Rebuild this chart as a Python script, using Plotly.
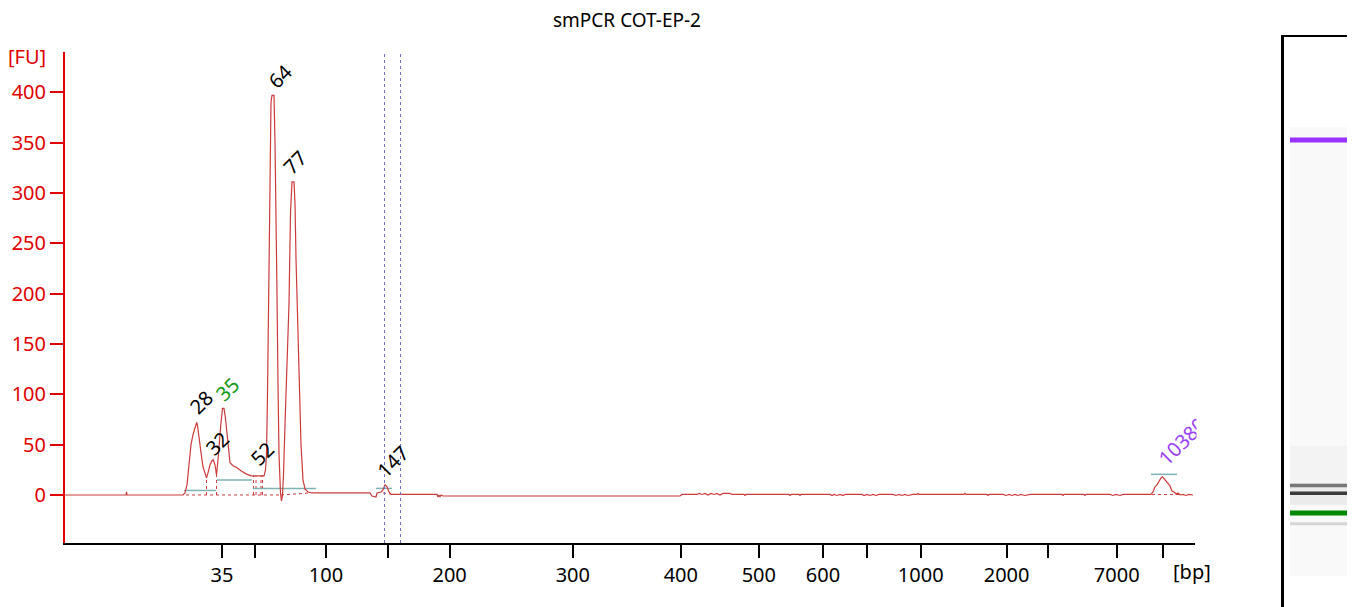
import plotly.graph_objects as go

# ---------------- data ----------------
# migration position (scan index) and fluorescence units
trace_x = [0, 60, 61, 61.5, 62, 118, 120, 122, 124, 126, 128, 130, 131.7, 132.5, 134, 136, 138, 140, 141.5,
           143, 145, 147, 148.3, 150, 151.5, 153, 154.5, 156, 157.5, 159, 160.5, 162, 163.5, 165, 168,
           172, 176, 181, 186, 193, 199, 200.5, 201.5, 202.5, 203.5, 204.5, 206, 207, 209, 210, 211,
           212, 213, 214, 215.5, 216.5, 217.5, 218.5, 220, 222, 224, 225.5, 227, 229, 230, 231, 232.5,
           234, 236, 238, 240, 243, 247, 305, 307, 311, 312, 316, 318, 320, 322, 324, 326, 372, 373,
           374, 375, 376, 378, 615, 617, 632, 634, 637, 640, 643, 646, 649, 652, 655, 658, 665, 667,
           679, 680, 681, 724, 725, 726, 734, 735, 736, 765, 767, 769, 772, 775, 778, 780, 797, 799,
           802, 805, 808, 811, 814, 828, 831, 834, 837, 840, 843, 848, 852, 853, 854, 899, 900, 901,
           922, 923, 924, 938, 941, 944, 947, 950, 953, 956, 960, 965, 997, 998, 999, 1019, 1020, 1021,
           1045, 1048, 1051, 1055, 1058, 1086, 1088, 1090, 1092, 1094, 1096, 1097.5, 1099, 1101, 1103,
           1105, 1107, 1109, 1111, 1113, 1115, 1118, 1121, 1124, 1128]
trace_fu = [0, 0, 0, 3, 0, 0, 2, 10, 30, 50, 60, 68, 72, 69, 56, 42, 28, 20, 17,
            22, 30, 34, 35, 30, 20, 35, 58, 72, 86, 86, 76, 60, 40, 32, 29,
            27, 24, 21, 19, 19, 19, 25, 40, 100, 200, 290, 390, 397, 397, 350, 290,
            200, 110, 40, 2, -6, 0, 20, 70, 130, 190, 280, 311, 311, 290, 235, 170,
            110, 50, 15, 6, 3, 2, 2, -1, -2, 2, 3, 5, 10, 8, 3, 0.5, 0.5, -2,
            0, -2, 0, -1, -1, 0.5, 0.5, 1.5, 0.5, 1.5, 0, 1.5, 0.5, 1.5, 0, 1.5, 1.5, 0.5,
            0.5, -0.5, 0.5, 0.5, -0.5, 0.5, 0.5, -0.5, 0.5, 0.5, -0.5, 0.5, -0.5, 0.5, -0.5, 0.5, 0.5, -0.5,
            0.5, -0.5, 0.5, -0.5, 0.5, 0.5, -0.5, 0.5, -0.5, 0.5, -0.5, 0.5, 0.5, 1.5, 0.5, 0.5, 1.5, 0.5,
            0.5, -0.5, 0.5, 0.5, -0.5, 0.5, -0.5, 0.5, -0.5, 0.5, -0.5, 0.5, 0.5, -0.5, 0.5, 0.5, -0.5, 0.5,
            0.5, -0.5, 0.5, -0.5, 0.5, 0.5, 3, 8, 10, 14, 17, 18, 16, 14, 11,
            9, 4, 3, 1, 2, 0, 0.5, -0.5, 0.5, 0]

# ladder (bp) positions on the migration axis
ladder_pos = [157, 189.5, 261, 323.4, 384.6, 507.8, 615.8, 693.8, 758, 802, 855.7, 941.6, 983, 1051.7, 1097.6]
ladder_text = ['35', '', '100', '', '200', '300', '400', '500', '600', '', '1000', '2000', '', '7000', '']
y_ticks = [0, 50, 100, 150, 200, 250, 300, 350, 400]

# called peaks
peak_labels = ['28', '32', '35', '52', '64', '77', '147', '10380']
peak_pos = [131.7, 148.3, 158.3, 193, 208.3, 228, 320, 1097.5]
peak_fu = [72, 35, 86, 19, 397, 311, 10, 18]
peak_kind = ['sample', 'sample', 'lower', 'sample', 'sample', 'sample', 'sample', 'upper']

# region of interest
region = [319.5, 335.5]

# integration windows (teal bars)
win_start = [119, 152, 188, 311, 1086]
win_end = [151, 187, 251, 327, 1112]
win_level = [4.5, 15, 6.5, 6.5, 20.5]

# peak baselines / boundaries (dotted)
base_x0 = [121, 216, 141.5, 151.5, 188.5, 191, 196, 197.5, 318, 1087]
base_y0 = [0, 0, 0, 0, 0, 0, 0, 0, 2, 0.5]
base_x1 = [216, 245, 141.5, 151.5, 188.5, 191, 196, 197.5, 326, 1114]
base_y1 = [0, 2, 17, 20, 19, 19, 19, 19, 1, 0.5]

# gel bands (peak index, grey/colour, thickness)
gel_peaks = [0, 2, 4, 5, 7]
gel_colors = ['#d6d6d6', '#008800', '#3a3a3a', '#767676', '#9933ff']
gel_widths = [3, 5, 3.5, 3.5, 5]

# ---------------- style / layout helpers ----------------
RED = '#e00000'
TRACE = '#cc3b3b'
FONT = 'Noto Sans'
FS = 20
W, H = 1355, 607
OX, OY = 8, 8          # page offset of the figure


def px(x):
    return (x - OX) / W


def py(y):
    return 1 - (y - OY) / H


label_color = {'sample': 'black', 'lower': '#119911', 'upper': '#9b40f5'}
label_dx = [4.3, 4, 3.7, 4.5, 6.7, 2, 8, 19.5]
label_dy = [20, 16, 19, 22, 18.3, 19, 23, 35]

fig = go.Figure()

# dotted baselines
bx, by = [], []
for a, b, c, d in zip(base_x0, base_y0, base_x1, base_y1):
    bx += [a, c, None]
    by += [b, d, None]
fig.add_trace(go.Scatter(x=bx, y=by, mode='lines', line=dict(color=TRACE, width=1, dash='dot'),
                         hoverinfo='skip', showlegend=False))

# teal windows
tx, ty = [], []
for a, b, l in zip(win_start, win_end, win_level):
    tx += [a, b, None]
    ty += [l, l, None]
fig.add_trace(go.Scatter(x=tx, y=ty, mode='lines', line=dict(color='#7fb2b2', width=1.5),
                         hoverinfo='skip', showlegend=False))

# electropherogram
fig.add_trace(go.Scatter(x=trace_x, y=trace_fu, mode='lines', line=dict(color=TRACE, width=1.2),
                         showlegend=False))

# region lines
for r in region:
    fig.add_shape(type='line', xref='x', yref='y domain', x0=r, x1=r, y0=0, y1=1,
                  line=dict(color='#6f6fc4', width=1, dash='dot'))

# gel lane
fig.add_shape(type='rect', xref='x2', yref='y2', x0=6, x1=79, y0=0, y1=1130,
              fillcolor='#f9f9f9', line=dict(width=0), layer='below')
fig.add_shape(type='rect', xref='x2', yref='y2', x0=6, x1=79, y0=234, y1=327,
              fillcolor='#f3f3f3', line=dict(width=0), layer='below')
fig.add_shape(type='rect', xref='x2', yref='y2', x0=6, x1=79, y0=179, y1=234,
              fillcolor='#ebebeb', line=dict(width=0), layer='below')
for i, c, w in zip(gel_peaks, gel_colors, gel_widths):
    fig.add_trace(go.Scatter(x=[6, 79], y=[peak_pos[i], peak_pos[i]], mode='lines',
                             line=dict(color=c, width=w), xaxis='x2', yaxis='y2',
                             hoverinfo='skip', showlegend=False))

# peak labels
for lab, p, h, k, dx, dy in zip(peak_labels, peak_pos, peak_fu, peak_kind, label_dx, label_dy):
    fig.add_annotation(x=p, y=h, xref='x', yref='y', text=lab, showarrow=False, textangle=-45,
                       xanchor='center', yanchor='middle', xshift=dx, yshift=dy,
                       font=dict(family=FONT, size=FS, color=label_color[k]))

# white cover clipping the label at the plot edge
fig.add_annotation(x=px(1196), y=py(440), xref='paper', yref='paper', text=' ', showarrow=False,
                   xanchor='left', yanchor='middle', width=60, height=100, bgcolor='white', borderpad=0)

fig.add_annotation(x=px(27), y=py(57), xref='paper', yref='paper', text='[FU]', showarrow=False,
                   xanchor='center', yanchor='middle', font=dict(family=FONT, size=FS, color=RED))
fig.add_annotation(x=px(1192), y=py(571), xref='paper', yref='paper', text='[bp]', showarrow=False,
                   xanchor='center', yanchor='middle', font=dict(family=FONT, size=FS, color='black'))

fig.update_layout(
    width=W, height=H,
    margin=dict(l=0, r=0, t=0, b=0),
    paper_bgcolor='white', plot_bgcolor='white',
    title=dict(text='smPCR COT-EP-2', x=px(627), xanchor='center', y=py(20), yanchor='middle',
               font=dict(family=FONT, size=19, color='black')),
    xaxis=dict(domain=[px(65), px(1195)], range=[0, 1130], tickmode='array', tickvals=ladder_pos,
               ticktext=ladder_text, ticks='outside', ticklen=13, tickwidth=2, tickcolor='black',
               showline=True, linecolor='black', linewidth=2, showgrid=False, zeroline=False,
               tickfont=dict(family=FONT, size=FS, color='black'), anchor='y'),
    yaxis=dict(domain=[py(543), py(52)], range=[-47.7, 440], tickmode='array', tickvals=y_ticks,
               ticks='outside', ticklen=13, tickwidth=2, tickcolor=RED, showline=True, linecolor=RED,
               linewidth=2, showgrid=False, zeroline=False,
               tickfont=dict(family=FONT, size=FS, color=RED), anchor='x'),
    xaxis2=dict(domain=[px(1284), 1], range=[0, 79], showticklabels=False, ticks='', showline=True,
                side='top', linecolor='black', linewidth=2, showgrid=False, zeroline=False, anchor='y2'),
    yaxis2=dict(domain=[0, py(37)], range=[-98.2, 1356.5], showticklabels=False, ticks='', showline=True,
                linecolor='black', linewidth=3, showgrid=False, zeroline=False, anchor='x2'),
)

fig.write_html('out.html')
